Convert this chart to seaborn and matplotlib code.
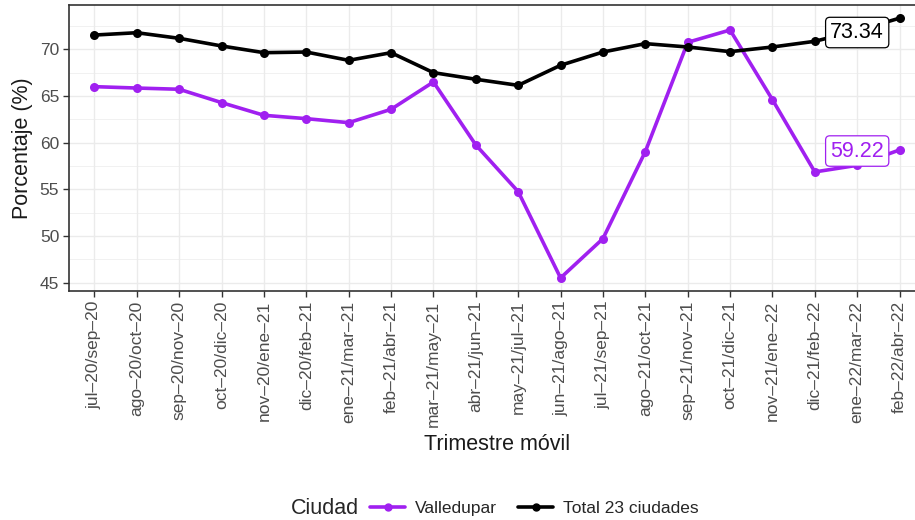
import matplotlib
matplotlib.use("Agg")
import matplotlib.pyplot as plt
import matplotlib.transforms as mtransforms
import seaborn as sns
import pandas as pd
from matplotlib.lines import Line2D
from matplotlib.offsetbox import HPacker

periodos = ["jul–20/sep–20", "ago–20/oct–20", "sep–20/nov–20", "oct–20/dic–20",
            "nov–20/ene–21", "dic–20/feb–21", "ene–21/mar–21", "feb–21/abr–21",
            "mar–21/may–21", "abr–21/jun–21", "may–21/jul–21", "jun–21/ago–21",
            "jul–21/sep–21", "ago–21/oct–21", "sep–21/nov–21", "oct–21/dic–21",
            "nov–21/ene–22", "dic–21/feb–22", "ene–22/mar–22", "feb–22/abr–22"]
valledupar = [66.0, 65.85, 65.72, 64.29, 62.93, 62.57, 62.14, 63.57, 66.5, 59.75,
              54.75, 45.5, 49.71, 59.04, 70.75, 72.07, 64.6, 56.86, 57.57, 59.22]
total23 = [71.53, 71.78, 71.18, 70.36, 69.64, 69.71, 68.82, 69.64, 67.5, 66.79,
           66.14, 68.29, 69.71, 70.61, 70.25, 69.75, 70.25, 70.86, 72.0, 73.34]
ciudades = ["Valledupar", "Total 23 ciudades"]
colores = ["#A020F0", "#000000"]

df = pd.DataFrame({
    "Trimestre": periodos * 2,
    "Valor": valledupar + total23,
    "Ciudad": [ciudades[0]] * len(periodos) + [ciudades[1]] * len(periodos),
})

sns.set_theme(style="whitegrid")
plt.rcParams["font.family"] = ["Liberation Sans", "DejaVu Sans"]

fig = plt.figure(figsize=(9.15, 5.2), dpi=100)
ax = fig.add_axes([69 / 915, 1 - 291 / 520, (925 - 69) / 915, (291 - 5) / 520])

sns.lineplot(data=df, x="Trimestre", y="Valor", hue="Ciudad", palette=colores,
             marker="o", markersize=6.5, markeredgewidth=0, linewidth=2.6,
             sort=False, ax=ax, legend=False)

n = len(periodos)
ax.set_xlim(-0.6, n - 1 + 0.6)
ax.set_ylim(44.1, 74.75)
ax.set_yticks([45, 50, 55, 60, 65, 70])
ax.set_yticks([47.5, 52.5, 57.5, 62.5, 67.5, 72.5], minor=True)
ax.set_xticks(range(n))
ax.set_xticklabels(periodos, rotation=90, fontsize=12.5, color="#4D4D4D")
offset = mtransforms.ScaledTranslation(5 / 100, 0, fig.dpi_scale_trans)
for lab in ax.get_xticklabels():
    lab.set_transform(lab.get_transform() + offset)
ax.tick_params(axis="y", labelsize=12.5, labelcolor="#4D4D4D")
ax.tick_params(axis="both", which="major", length=4, width=1, color="#333333",
               bottom=True, left=True, pad=3)
ax.tick_params(axis="y", which="minor", length=0)
ax.grid(True, which="major", color="#EBEBEB", linewidth=1.0)
ax.grid(True, which="minor", axis="y", color="#EBEBEB", linewidth=0.5)
ax.set_axisbelow(True)
for s in ax.spines.values():
    s.set_color("#333333")
    s.set_linewidth(1.2)
    s.set_visible(True)

ax.set_xlabel("Trimestre móvil", fontsize=15.5, color="#1A1A1A", labelpad=5)
ax.set_ylabel("Porcentaje (%)", fontsize=15.5, color="#1A1A1A", labelpad=5)

ax.text(n - 2, 71.8, f"{total23[-1]:.2f}", ha="center", va="center", fontsize=15.5,
        color="black",
        bbox=dict(boxstyle="round,pad=0.22,rounding_size=0.2", fc="white",
                  ec="black", lw=0.9))
ax.text(n - 2, 59.1, f"{valledupar[-1]:.2f}", ha="center", va="center", fontsize=15.5,
        color=colores[0],
        bbox=dict(boxstyle="round,pad=0.22,rounding_size=0.2", fc="white",
                  ec=colores[0], lw=0.9))

handles = [Line2D([], [], color=c, marker="o", markersize=5, linewidth=2.6)
           for c in colores]
leg = fig.legend(handles, ciudades, title="Ciudad", loc="center",
                 bbox_to_anchor=(495 / 915, 1 - 508 / 520), ncol=2, frameon=False,
                 fontsize=12.5, title_fontsize=15.5, handlelength=2.0,
                 columnspacing=1.2, handletextpad=0.6)
title_box = leg._legend_title_box
handle_box = leg._legend_handle_box
leg._legend_box._children = [HPacker(children=[title_box, handle_box],
                                     align="center", pad=0, sep=8)]

fig.savefig("out.png", dpi=100)
